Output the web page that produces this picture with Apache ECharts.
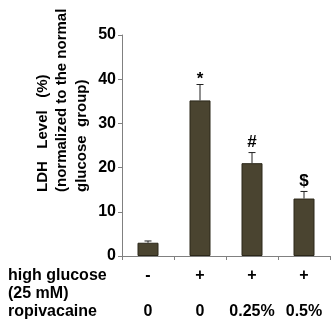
<!DOCTYPE html>
<html>
<head>
<meta charset="utf-8">
<script src="https://cdn.jsdelivr.net/npm/echarts@6/dist/echarts.min.js"></script>
<style>html,body{margin:0;padding:0;background:#fff;}#c{width:331px;height:322px;}</style>
</head>
<body>
<div id="c"></div>
<script>
var glucoseLabels = ['-', '+', '+', '+'];
var ropivacaineLabels = ['0', '0', '0.25%', '0.5%'];
var categories = ['ctrl', 'HG', 'HG+0.25%', 'HG+0.5%'];
var ldhValues = [3.0, 35.2, 21.0, 13.0];
var ldhErrors = [0.4, 3.6, 2.4, 1.6];
var sigMarks = ['', '*', '#', '$'];
var yTicks = [0, 10, 20, 30, 40, 50];

var chart = echarts.init(document.getElementById('c'), null, {renderer: 'canvas'});
var FONT = '"Liberation Sans", Arial, sans-serif';
var axisGray = '#808080';

chart.setOption({
  animation: false,
  backgroundColor: '#ffffff',
  grid: {left: 122, right: 1, top: 35, bottom: 66, containLabel: false},
  xAxis: {
    type: 'category',
    data: categories,
    axisLine: {lineStyle: {color: axisGray, width: 1}},
    axisTick: {show: true, length: 4, lineStyle: {color: axisGray}},
    axisLabel: {
      interval: 0,
      margin: 11,
      color: '#000',
      fontFamily: FONT,
      fontWeight: 'bold',
      fontSize: 16,
      lineHeight: 18,
      verticalAlign: 'top',
      formatter: function (v, i) { return glucoseLabels[i] + '\n\n' + ropivacaineLabels[i]; }
    }
  },
  yAxis: {
    type: 'value',
    min: yTicks[0],
    max: yTicks[yTicks.length - 1],
    interval: 10,
    splitLine: {show: false},
    axisLine: {show: true, lineStyle: {color: axisGray, width: 1}},
    axisTick: {show: true, length: 4, lineStyle: {color: axisGray}},
    axisLabel: {margin: 6, color: '#000', fontFamily: FONT, fontWeight: 'bold', fontSize: 16}
  },
  series: [
    {
      type: 'bar',
      data: ldhValues,
      barWidth: 21,
      itemStyle: {color: '#4a4430', borderColor: '#2b2719', borderWidth: 1}
    },
    {
      type: 'custom',
      data: ldhValues.map(function (v, i) { return [i, v, ldhErrors[i], sigMarks[i]]; }),
      z: 5,
      renderItem: function (params, api) {
        var i = api.value(0);
        var top = api.coord([i, api.value(1) + api.value(2)]);
        var base = api.coord([i, api.value(1)]);
        var mark = sigMarks[params.dataIndex];
        var hw = 3.5;
        var children = [
          {type: 'line', shape: {x1: base[0], y1: base[1], x2: top[0], y2: top[1]}, style: {stroke: '#222', lineWidth: 1}},
          {type: 'line', shape: {x1: top[0] - hw, y1: top[1], x2: top[0] + hw, y2: top[1]}, style: {stroke: '#222', lineWidth: 1}}
        ];
        if (mark) {
          children.push({
            type: 'text',
            x: top[0],
            y: top[1] - 2 + (mark === '*' ? 5 : 0),
            style: {text: mark, fill: '#000', font: 'bold 17px ' + FONT, textAlign: 'center', textVerticalAlign: 'bottom'}
          });
        }
        return {type: 'group', children: children};
      }
    }
  ],
  graphic: [
    {
      type: 'text',
      x: 33, y: 192,
      rotation: Math.PI / 2,
      style: {
        text: 'LDH   Level   (%)\n(normalized to the normal\nglucose  group)',
        font: 'bold 15px ' + FONT,
        lineHeight: 19.5,
        fill: '#000',
        textAlign: 'left',
        textVerticalAlign: 'top'
      }
    },
    {
      type: 'text',
      x: 8, y: 267,
      style: {
        text: 'high glucose\n(25 mM)\nropivacaine',
        font: 'bold 16px ' + FONT,
        lineHeight: 18,
        fill: '#000',
        textAlign: 'left',
        textVerticalAlign: 'top'
      }
    }
  ]
});
</script>
</body>
</html>
